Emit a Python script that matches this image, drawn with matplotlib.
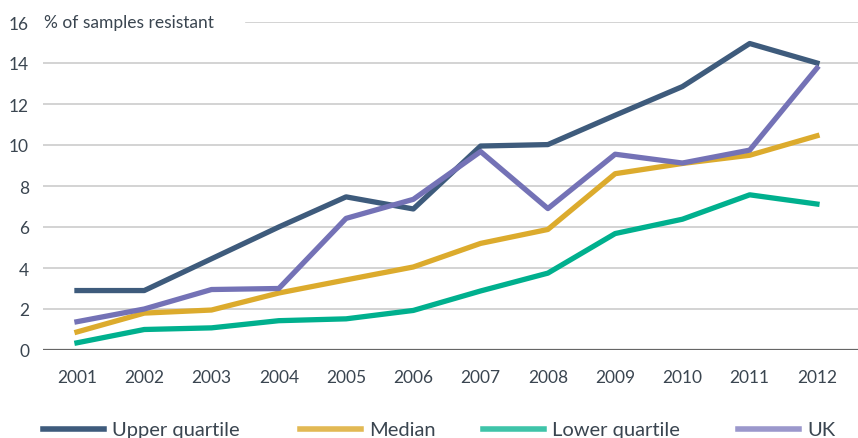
import numpy as np
import matplotlib.pyplot as plt
from matplotlib.lines import Line2D

years = np.arange(2001, 2013)
upper = [2.9, 2.9, 4.45, 6.0, 7.47, 6.88, 9.95, 10.02, 11.45, 12.85, 14.95, 14.0]
median = [0.88, 1.8, 1.95, 2.78, 3.42, 4.05, 5.2, 5.88, 8.6, 9.1, 9.5, 10.45]
lower = [0.35, 1.0, 1.08, 1.43, 1.52, 1.93, 2.88, 3.75, 5.68, 6.38, 7.57, 7.12]
uk = [1.38, 2.0, 2.95, 3.0, 6.42, 7.35, 9.68, 6.9, 9.55, 9.12, 9.75, 13.75]

names = ['Upper quartile', 'Median', 'Lower quartile', 'UK']
series = [upper, median, lower, uk]
colors = ['#3e5b7c', '#dcab2d', '#00b08e', '#7472b6']
legend_colors = ['#3e5b7c', '#e2b954', '#3fc4a9', '#9b98cc']

text_col = '#3a4550'
plt.rcParams['font.family'] = ['Lato', 'DejaVu Sans']

fig = plt.figure(figsize=(8.58, 4.39), dpi=100)
ax = fig.add_axes([43 / 858, 88 / 439, 815 / 858, 328 / 439])

for y in range(2, 16, 2):
    ax.axhline(y, color='#cccccc', lw=1.2, zorder=1)
ax.axhline(16, xmin=(246 - 43) / 815, color='#cccccc', lw=1.2, zorder=1)
ax.axhline(0, color='#666666', lw=1.6, zorder=1)

for vals, c in zip(series, colors):
    ax.plot(years, vals, color=c, lw=3.8, zorder=3)

ax.set_xlim(2000.495, 2012.61)
ax.set_ylim(0, 16)
ax.set_yticks(range(0, 17, 2))
ax.set_xticks(years)
ax.tick_params(length=0, labelsize=12.5, labelcolor=text_col)
ax.tick_params(axis='y', pad=10)
ax.tick_params(axis='x', pad=14)
for s in ax.spines.values():
    s.set_visible(False)

ax.text(2000.505, 16, '% of samples resistant', fontsize=12.5, color=text_col,
        va='center', ha='left')

# legend drawn manually along the bottom edge
leg_x = [43, 300, 483, 738]
for x0, name, c in zip(leg_x, names, legend_colors):
    fig.add_artist(Line2D([x0 / 858, (x0 + 61) / 858], [1 - 430 / 439] * 2,
                          color=c, lw=4, transform=fig.transFigure))
    fig.text((x0 + 69) / 858, 1 - 431 / 439, name, fontsize=14.5,
             color=text_col, va='center', ha='left')

fig.savefig('out.png', dpi=100)
